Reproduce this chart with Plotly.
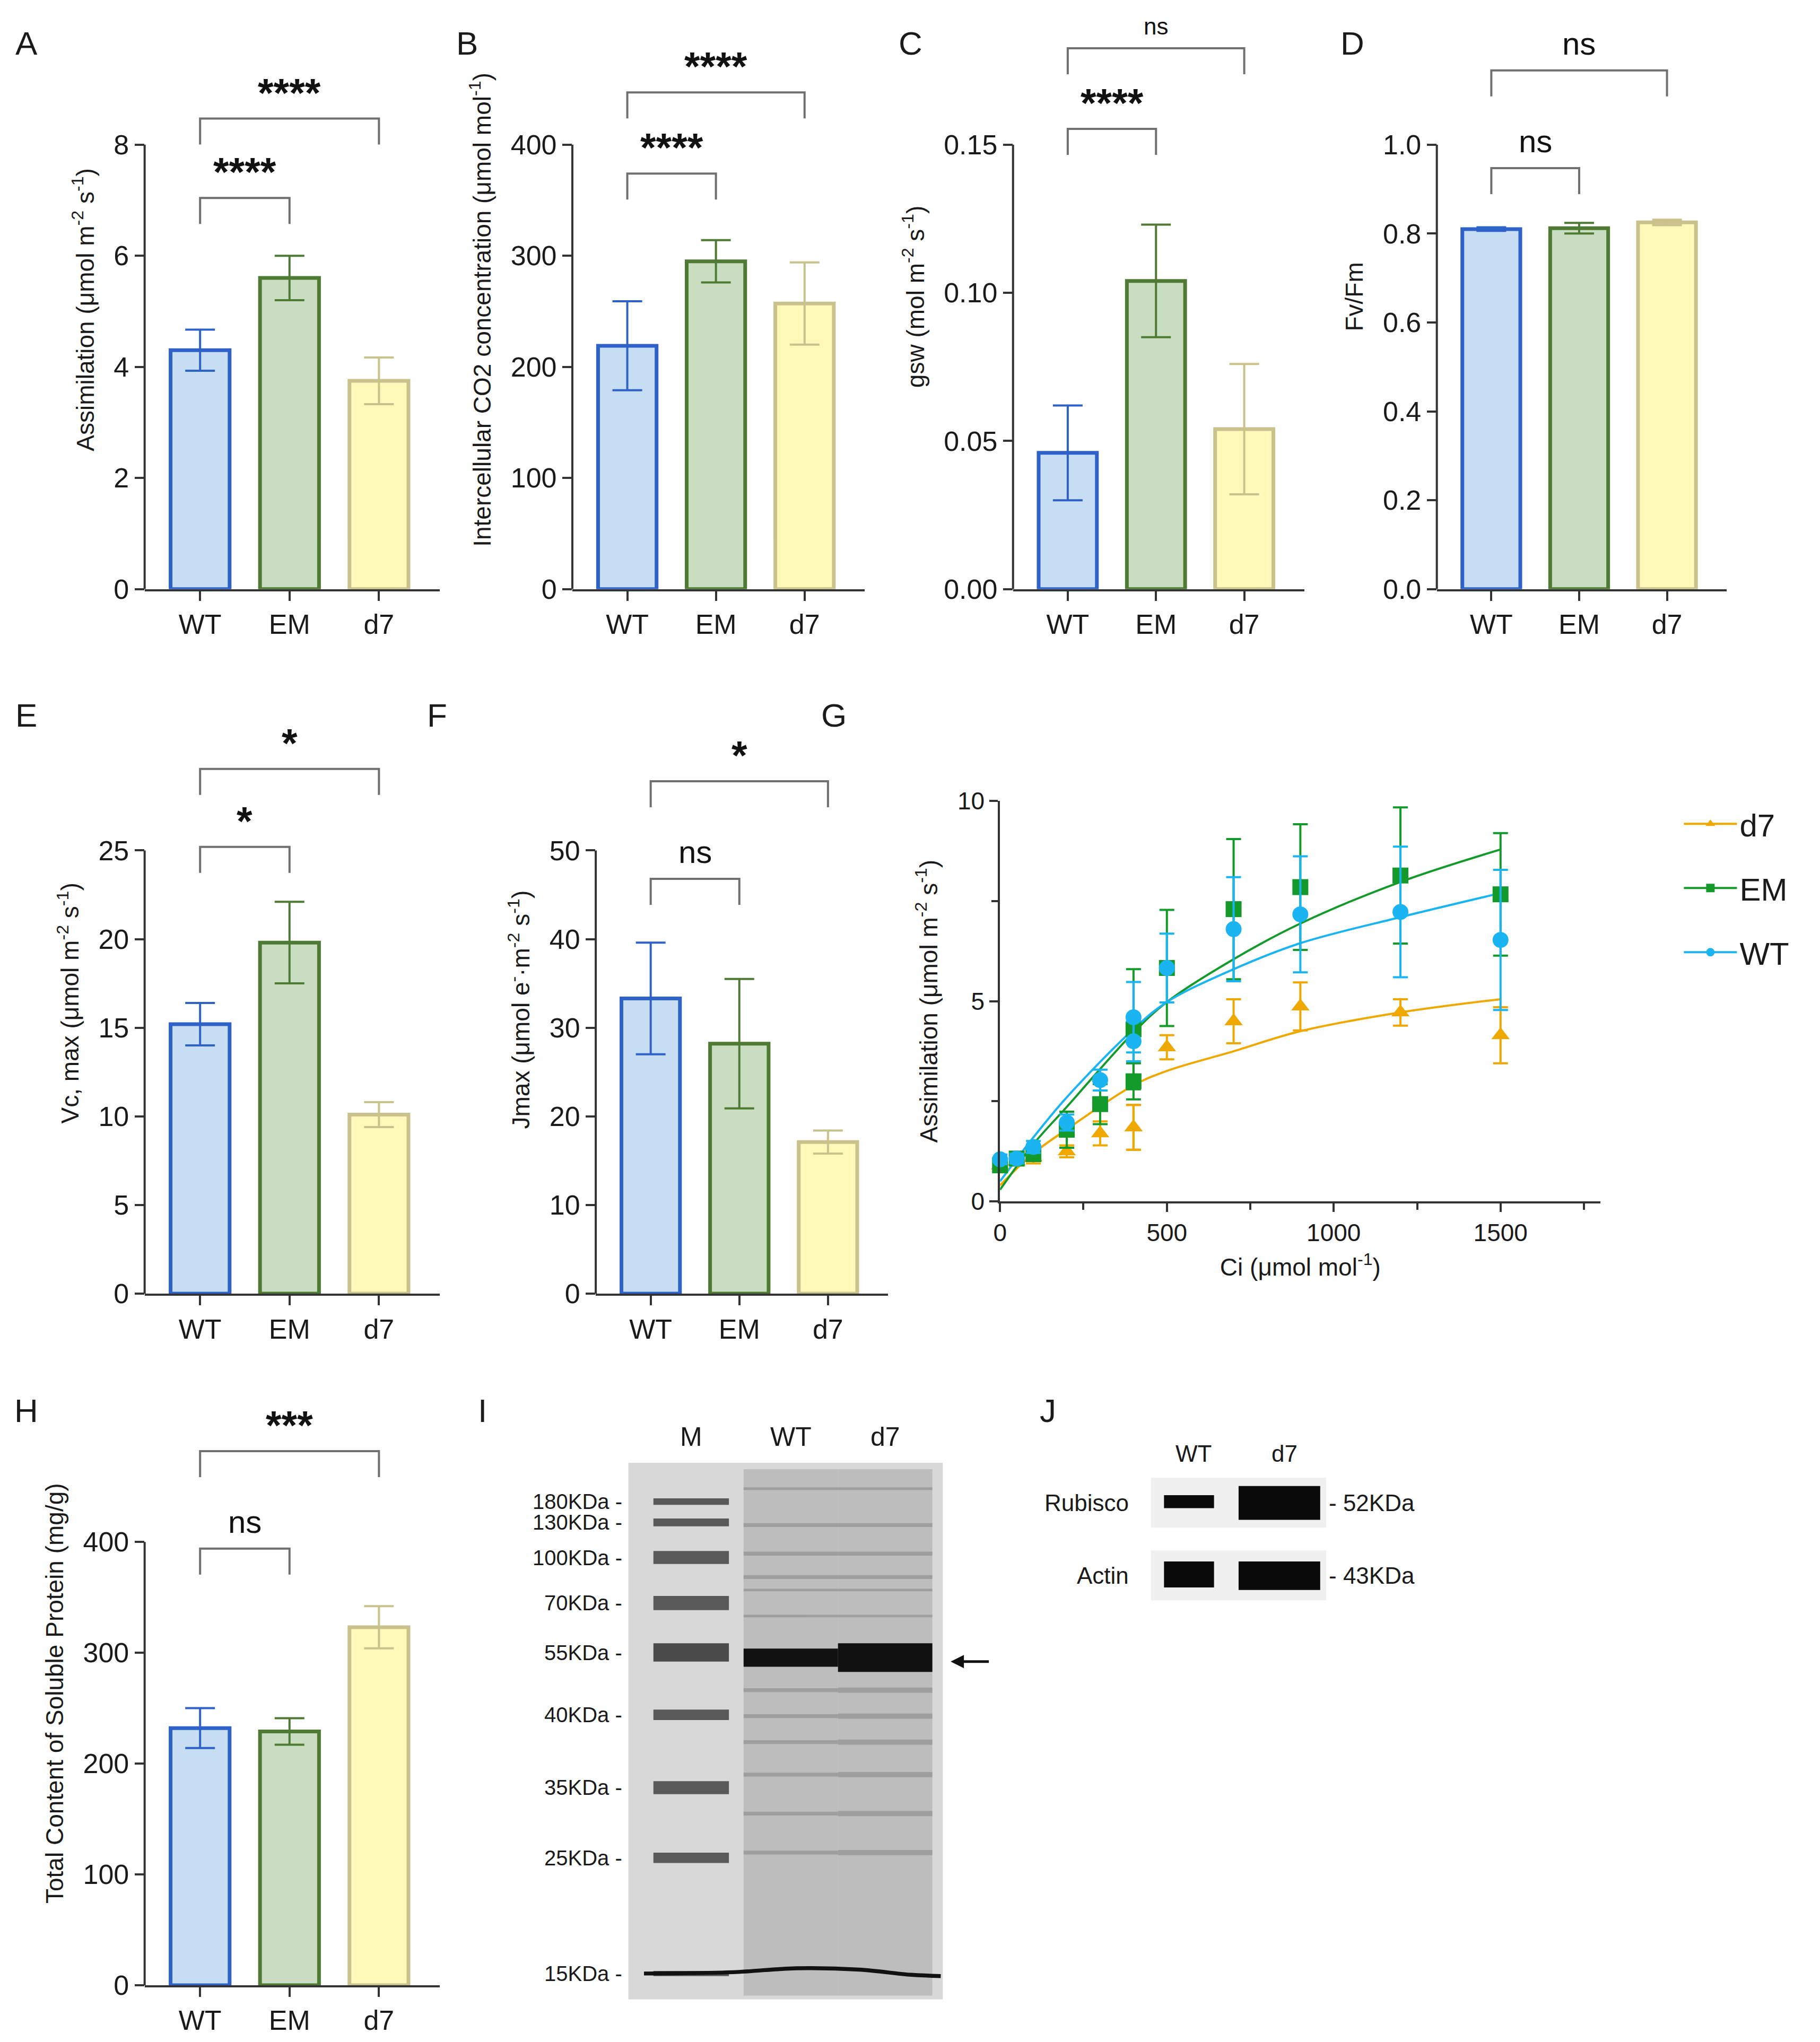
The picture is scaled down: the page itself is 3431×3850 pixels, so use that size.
import plotly.graph_objects as go

W, H = 3431, 3850
S = W / 1400.0          # reference drawn at 1400 px wide
HD = H / S

FONT = "Liberation Sans, Arial, sans-serif"

groups = ["WT", "EM", "d7"]
fills = ["#C6DDF3", "#C9DDC1", "#FFF8B8"]
lines = ["#2E62C8", "#4F7A34", "#C9C28C"]

# bar panel data: mean, sd
A_mean, A_err = [4.3, 5.6, 3.75], [0.37, 0.4, 0.42]
B_mean, B_err = [219, 295, 257], [40, 19, 37]
C_mean, C_err = [0.046, 0.104, 0.054], [0.016, 0.019, 0.022]
D_mean, D_err = [0.81, 0.812, 0.825], [0.004, 0.012, 0.006]
E_mean, E_err = [15.2, 19.8, 10.1], [1.2, 2.3, 0.7]
F_mean, F_err = [33.3, 28.2, 17.1], [6.3, 7.3, 1.3]
H_mean, H_err = [232, 229, 323], [18, 12, 19]

# A/Ci curves
ci = [0, 50, 100, 200, 300, 400, 400, 500, 700, 900, 1200, 1500]
wt_a = [1.05, 1.07, 1.36, 1.97, 3.03, 4.0, 4.6, 5.83, 6.8, 7.17, 7.23, 6.53]
wt_e = [0.12, 0.12, 0.15, 0.2, 0.26, 0.5, 0.88, 0.86, 1.3, 1.45, 1.63, 1.75]
em_a = [0.9, 1.07, 1.18, 1.79, 2.43, 3.0, 4.3, 5.83, 7.3, 7.85, 8.14, 7.67]
em_e = [0.12, 0.12, 0.15, 0.45, 0.5, 0.45, 1.5, 1.45, 1.75, 1.57, 1.7, 1.53]
d7_a = [0.9, 1.0, 1.1, 1.25, 1.7, 1.85, 1.85, 3.85, 4.5, 4.87, 4.72, 4.15]
d7_e = [0.1, 0.1, 0.15, 0.15, 0.3, 0.56, 0.56, 0.3, 0.55, 0.6, 0.33, 0.7]
fit_ci = [0, 100, 200, 400, 500, 700, 900, 1200, 1500]
wt_fit = [0.5, 1.6, 2.6, 4.3, 4.98, 5.8, 6.45, 7.1, 7.7]
em_fit = [0.29, 1.43, 2.36, 4.22, 4.98, 6.05, 6.94, 7.98, 8.79]
d7_fit = [0.4, 1.2, 1.8, 2.9, 3.26, 3.75, 4.25, 4.72, 5.05]

# gel (lane index, migration from gel top in ref px)
marker_labels = ["180KDa", "130KDa", "100KDa", "70KDa", "55KDa", "40KDa", "35KDa", "25KDa", "15KDa"]
marker_pos = [30, 46, 73, 108, 146, 194, 250, 304, 393]
marker_w = [5, 6, 10, 11, 14, 8, 10, 8, 4]
sample_pos = [20, 48, 70, 88, 98, 118, 150, 175, 195, 215, 240, 270, 300]
wt_w = [2, 3, 3, 3, 2, 2, 14, 3, 3, 3, 3, 3, 3]
d7_w = [2, 3, 3, 3, 2, 2, 22, 4, 4, 4, 4, 4, 4]

# western
wb_rows = ["Rubisco", "Actin"]
wb_size = ["- 52KDa", "- 43KDa"]
wb_wt = [10, 20]
wb_d7 = [26, 22]

fig = go.Figure()
layout = dict(width=W, height=H, margin=dict(l=0, r=0, t=0, b=0, autoexpand=False),
              paper_bgcolor="white", plot_bgcolor="white", template="none",
              font=dict(family=FONT, size=48, color="#1a1a1a"),
              showlegend=True, shapes=[], annotations=[])

TICK, TITLE = 52, 46


def dx(a, b):
    return [a / 1400.0, b / 1400.0]


def dy(top, bot):
    return [1 - bot / HD, 1 - top / HD]


def px(xd):
    return xd / 1400.0


def py(yd):
    return 1 - yd / HD


def label(text, xd, yd, size, xanchor="center", yanchor="middle"):
    layout["annotations"].append(dict(x=px(xd), y=py(yd), xref="paper", yref="paper", text=text,
                                      showarrow=False, xanchor=xanchor, yanchor=yanchor,
                                      font=dict(size=size)))


def refs(n):
    s = "" if n == 1 else str(n)
    return "xaxis" + s, "yaxis" + s, "x" + s, "y" + s


def bar_panel(n, x0, x1, top, zero, vmax_px, vmax, mean, err, ticks, title, fmt, brackets):
    k = (zero - vmax_px) / vmax
    ytop = (zero - top) / k
    xa, ya, xr, yr = refs(n)
    for i, g in enumerate(groups):
        fig.add_trace(go.Bar(x=[i], y=[mean[i]], width=0.66, xaxis=xr, yaxis=yr,
                             marker=dict(color=fills[i], line=dict(color=lines[i], width=7)),
                             error_y=dict(type="data", array=[err[i]], color=lines[i],
                                          thickness=4, width=28),
                             showlegend=False))
    leg = 20 / k
    for (a, b, yb, lab, small) in brackets:
        fig.add_trace(go.Scatter(x=[a, a, b, b], y=[yb - leg, yb, yb, yb - leg], mode="lines",
                                 line=dict(color="#707070", width=4), xaxis=xr, yaxis=yr,
                                 cliponaxis=False, showlegend=False, hoverinfo="skip"))
        star = "*" in lab
        layout["annotations"].append(dict(
            x=(a + b) / 2, y=yb + (2 if star else 6) / k, xref=xr, yref=yr,
            text="<b>%s</b>" % lab if star else lab,
            showarrow=False, yanchor="bottom",
            font=dict(size=(76 if star else (44 if small else 60)), family=FONT, color="#111")))
    layout[xa] = dict(domain=dx(x0, x1), range=[-0.62, 2.68], anchor=yr, automargin=False,
                      tickvals=[0, 1, 2], ticktext=groups, showline=True, linecolor="#333",
                      linewidth=4, ticks="outside", ticklen=18, tickwidth=4, tickcolor="#333",
                      tickfont=dict(size=TICK), showgrid=False, zeroline=False, fixedrange=True)
    layout[ya] = dict(domain=dy(top, zero), range=[0, ytop], anchor=xr, automargin=False,
                      tickvals=ticks, tickformat=fmt, showline=False, ticks="outside",
                      ticklen=18, tickwidth=4, tickcolor="#333", tickfont=dict(size=TICK),
                      showgrid=False, zeroline=False,
                      title=dict(text=title, font=dict(size=TITLE), standoff=22))
    layout["shapes"].append(dict(type="line", xref="%s domain" % xr, yref=yr, x0=0, x1=0,
                                 y0=0, y1=ticks[-1], line=dict(color="#333", width=4)))


um = "μmol m<sup>-2</sup> s<sup>-1</sup>"
bar_panel(1, 108, 335, 20, 450, 108, 8, A_mean, A_err, [0, 2, 4, 6, 8],
          "Assimilation (%s)" % um, "d",
          [(0, 1, 7.04, "****", False), (0, 2, 8.47, "****", False)])
bar_panel(2, 437, 662, 20, 450, 108, 400, B_mean, B_err, [0, 100, 200, 300, 400],
          "Intercellular CO2 concentration (μmol mol<sup>-1</sup>)", "d",
          [(0, 1, 374, "****", False), (0, 2, 447, "****", False)])
bar_panel(3, 776, 1000, 0, 450, 108, 0.15, C_mean, C_err, [0, 0.05, 0.10, 0.15],
          "gsw (mol m<sup>-2</sup> s<sup>-1</sup>)", ".2f",
          [(0, 1, 0.1553, "****", False), (0, 2, 0.1825, "ns", True)])
bar_panel(4, 1102, 1325, 0, 450, 108, 1.0, D_mean, D_err, [0, 0.2, 0.4, 0.6, 0.8, 1.0],
          "Fv/Fm", ".1f",
          [(0, 1, 0.947, "ns", False), (0, 2, 1.167, "ns", False)])
bar_panel(5, 108, 335, 545, 992, 651, 25, E_mean, E_err, [0, 5, 10, 15, 20, 25],
          "Vc, max (%s)" % um, "d",
          [(0, 1, 25.2, "*", False), (0, 2, 29.6, "*", False)])
bar_panel(6, 455, 680, 555, 992, 651, 50, F_mean, F_err, [0, 10, 20, 30, 40, 50],
          "Jmax (μmol e<sup>-</sup>·m<sup>-2</sup> s<sup>-1</sup>)", "d",
          [(0, 1, 46.8, "ns", False), (0, 2, 57.8, "*", False)])
bar_panel(7, 108, 335, 1075, 1524, 1183, 400, H_mean, H_err, [0, 100, 200, 300, 400],
          "Total Content of Soluble Protein (mg/g)", "d",
          [(0, 1, 394, "ns", False), (0, 2, 482, "***", False)])

# panel G
gcol = {"WT": "#1AB4F2", "EM": "#149A2A", "d7": "#EFA800"}
gsym = {"WT": "circle", "EM": "square", "d7": "triangle-up"}
gdat = {"WT": (wt_a, wt_e, wt_fit), "EM": (em_a, em_e, em_fit), "d7": (d7_a, d7_e, d7_fit)}
for g in ["d7", "EM", "WT"]:
    a, e, f = gdat[g]
    fig.add_trace(go.Scatter(x=fit_ci, y=f, mode="lines", line=dict(color=gcol[g], width=4, shape="spline"),
                             xaxis="x8", yaxis="y8", showlegend=False, cliponaxis=False))
for g in ["d7", "EM", "WT"]:
    a, e, f = gdat[g]
    fig.add_trace(go.Scatter(x=ci, y=a, mode="markers", xaxis="x8", yaxis="y8",
                             marker=dict(color=gcol[g], symbol=gsym[g], size=30),
                             error_y=dict(type="data", array=e, color=gcol[g], thickness=4, width=14),
                             showlegend=False, cliponaxis=False))
for g in ["d7", "EM", "WT"]:
    fig.add_trace(go.Scatter(x=[None], y=[None], mode="lines+markers", name=g, xaxis="x8", yaxis="y8",
                             legendgroup=g, line=dict(color=gcol[g], width=4),
                             marker=dict(color=gcol[g], symbol=gsym[g], size=30)))
layout["xaxis8"] = dict(domain=dx(766, 1228), range=[0, 1800], anchor="y8", automargin=False,
                        tickvals=[0, 500, 1000, 1500], showline=True, linecolor="#333", linewidth=4,
                        ticks="outside", ticklen=16, tickwidth=4, tickcolor="#333",
                        minor=dict(tickvals=[250, 750, 1250, 1750], ticks="outside", ticklen=12,
                                   tickwidth=4, tickcolor="#333"),
                        tickfont=dict(size=46), showgrid=False, zeroline=False,
                        title=dict(text="Ci (μmol mol<sup>-1</sup>)", font=dict(size=TITLE), standoff=24))
layout["yaxis8"] = dict(domain=dy(613, 921), range=[0, 10], anchor="x8", automargin=False,
                        tickvals=[0, 5, 10], showline=True, linecolor="#333", linewidth=4,
                        ticks="outside", ticklen=16, tickwidth=4, tickcolor="#333",
                        minor=dict(tickvals=[2.5, 7.5], ticks="outside", ticklen=12,
                                   tickwidth=4, tickcolor="#333"),
                        tickfont=dict(size=46), showgrid=False, zeroline=False,
                        title=dict(text="Assimilation (%s)" % um, font=dict(size=TITLE), standoff=24))
layout["legend"] = dict(x=px(1290), y=py(612), xanchor="left", yanchor="top",
                        font=dict(size=60), itemwidth=100, tracegroupgap=40, bgcolor="rgba(0,0,0,0)")

# panel I gel
lane_x = [0.6, 1.55, 2.45]
lane_half = [0.42, 0.45, 0.45]
GX0, GX1, GY0, GY1 = 480, 722, 1122, 1535
layout["xaxis9"] = dict(domain=dx(GX0, GX1), range=[0, 3], anchor="y9", visible=False, fixedrange=True)
layout["yaxis9"] = dict(domain=dy(GY0, GY1), range=[413, 0], anchor="x9", visible=False, fixedrange=True)
layout["shapes"].append(dict(type="rect", xref="x9", yref="y9", x0=0, x1=3, y0=0, y1=413,
                             fillcolor="#D8D8D8", line=dict(width=0), layer="below"))
for i in (1, 2):
    layout["shapes"].append(dict(type="rect", xref="x9", yref="y9", x0=lane_x[i] - lane_half[i],
                                 x1=lane_x[i] + lane_half[i], y0=5, y1=410,
                                 fillcolor="#BDBDBD", line=dict(width=0), layer="below"))
for p, w in zip(marker_pos, marker_w):
    fig.add_trace(go.Scatter(x=[lane_x[0] - 0.36, lane_x[0] + 0.36], y=[p, p], mode="lines",
                             line=dict(color="#444" if w < 12 else "#333", width=w * S),
                             opacity=0.85, xaxis="x9", yaxis="y9", showlegend=False, hoverinfo="skip"))
for lane, ws in ((1, wt_w), (2, d7_w)):
    for p, w in zip(sample_pos, ws):
        big = w > 10
        fig.add_trace(go.Scatter(x=[lane_x[lane] - 0.45, lane_x[lane] + 0.45], y=[p, p], mode="lines",
                                 line=dict(color="#111" if big else "#8A8A8A", width=w * S),
                                 opacity=1 if big else 0.6, xaxis="x9", yaxis="y9",
                                 showlegend=False, hoverinfo="skip"))
fig.add_trace(go.Scatter(x=[0.15, 1.0, 1.6, 2.2, 2.7, 2.98], y=[393, 392, 389, 390, 394, 395], mode="lines",
                         line=dict(color="#111", width=3 * S, shape="spline"),
                         xaxis="x9", yaxis="y9", showlegend=False, hoverinfo="skip"))
for lab, p in zip(marker_labels, marker_pos):
    label(lab + " -", GX0 - 4, GY0 + p, 40, xanchor="right")
for lab, xl in zip(["M", "WT", "d7"], lane_x):
    label(lab, GX0 + xl / 3 * (GX1 - GX0), 1102, 50)
layout["annotations"].append(dict(x=px(728), y=py(1275), ax=30 * S, ay=0, xref="paper",
                                  yref="paper", axref="pixel", ayref="pixel", text="", showarrow=True,
                                  arrowhead=2, arrowsize=1, arrowwidth=5, arrowcolor="#111"))

# panel J western
JX0, JX1, JY0 = 882, 1017, 1133
layout["xaxis10"] = dict(domain=dx(JX0, JX1), range=[0, 2], anchor="y10", visible=False, fixedrange=True)
layout["yaxis10"] = dict(domain=dy(JY0, 1228), range=[95, 0], anchor="x10", visible=False, fixedrange=True)
row_y = [20, 76]
for r in range(2):
    layout["shapes"].append(dict(type="rect", xref="x10", yref="y10", x0=0, x1=2,
                                 y0=row_y[r] - 19.5, y1=row_y[r] + 19, fillcolor="#F0F0F0",
                                 line=dict(width=0), layer="below"))
    fig.add_trace(go.Scatter(x=[0.15, 0.72], y=[row_y[r] - 1, row_y[r] - 1], mode="lines",
                             line=dict(color="#0a0a0a", width=wb_wt[r] * S),
                             xaxis="x10", yaxis="y10", showlegend=False, hoverinfo="skip"))
    fig.add_trace(go.Scatter(x=[1.0, 1.93], y=[row_y[r], row_y[r]], mode="lines",
                             line=dict(color="#0a0a0a", width=wb_d7[r] * S),
                             xaxis="x10", yaxis="y10", showlegend=False, hoverinfo="skip"))
    label(wb_rows[r], JX0 - 16, JY0 + row_y[r], 44, xanchor="right")
    label(wb_size[r], JX1 + 1, JY0 + row_y[r], 44, xanchor="left")
for lab, xl in zip(["WT", "d7"], [915, 985]):
    label(lab, xl, 1115, 44)

# panel letters
letters = [("A", 17, 30), ("B", 356, 30), ("C", 697, 30), ("D", 1037, 30), ("E", 17, 547),
           ("F", 333, 547), ("G", 638, 547), ("H", 17, 1082), ("I", 368, 1082), ("J", 803, 1082)]
for t, xp, yp in letters:
    label(t, xp, yp, 62)

fig.update_layout(**layout)
fig.write_html("out.html")
